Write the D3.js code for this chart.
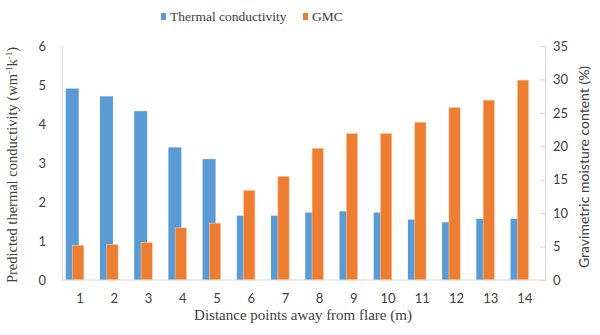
<!DOCTYPE html>
<html>
<head>
<meta charset="utf-8">
<script src="https://cdn.jsdelivr.net/npm/d3@7"></script>
<style>
  body { margin:0; background:#fff; }
</style>
</head>
<body>
<div class="canvas"></div>
<script>
// data
const points = ['1','2','3','4','5','6','7','8','9','10','11','12','13','14'];
const thermal = [4.91, 4.71, 4.33, 3.40, 3.10, 1.65, 1.65, 1.73, 1.76, 1.73, 1.55, 1.48, 1.57, 1.57];
const gmc = [5.2, 5.3, 5.6, 7.8, 8.5, 13.4, 15.5, 19.7, 21.9, 21.9, 23.6, 25.8, 26.9, 29.9];
const leftTicks = [0, 1, 2, 3, 4, 5, 6];
const rightTicks = [0, 5, 10, 15, 20, 25, 30, 35];

const width = 600, height = 335;
const plot = { left:62, right:545, top:46, bottom:280 }; // plot area edges
const serif = '"Liberation Serif", "Times New Roman", serif';
const sans = 'Lato, "Open Sans", sans-serif';

const svg = d3.select('.canvas')
  .append('svg')
  .attr('width', width)
  .attr('height', height);

// scales
const x = d3.scaleBand().domain(points).range([plot.left + 1, plot.right - 3]);
const yL = d3.scaleLinear().domain([0, 6]).range([plot.bottom, plot.top]);
const yR = d3.scaleLinear().domain([0, 35]).range([plot.bottom, plot.top]);
const bw = x.bandwidth();

// bars: blue first, orange drawn over it (slight overlap like the original)
svg.append('g').selectAll('rect')
  .data(thermal)
  .enter().append('rect')
    .attr('x', (d, i) => x(points[i]) + bw * 0.08)
    .attr('width', bw * 0.38)
    .attr('y', d => yL(d))
    .attr('height', d => yL(0) - yL(d))
    .attr('fill', '#5b9bd5');

svg.append('g').selectAll('rect')
  .data(gmc)
  .enter().append('rect')
    .attr('x', (d, i) => x(points[i]) + bw * 0.28)
    .attr('width', bw * 0.33)
    .attr('y', d => yR(d))
    .attr('height', d => yR(0) - yR(d))
    .attr('fill', '#ed7d31')
    .attr('stroke', '#f8c9a6')
    .attr('stroke-width', 0.6);

// axes
const leftAxis = d3.axisLeft(yL).tickValues(leftTicks).tickFormat(d3.format('d')).tickSize(0).tickPadding(16);
const rightAxis = d3.axisRight(yR).tickValues(rightTicks).tickSize(-5).tickPadding(8);
const bottomAxis = d3.axisBottom(x).tickSize(0).tickPadding(14);

const gl = svg.append('g').attr('transform', `translate(${plot.left},0)`).call(leftAxis);
const gr = svg.append('g').attr('transform', `translate(${plot.right},0)`).call(rightAxis);
const gb = svg.append('g').attr('transform', `translate(0,${plot.bottom})`).call(bottomAxis);

[gl, gr, gb].forEach(g => {
  g.attr('font-family', null).attr('font-size', null)
   .style('font-family', sans).style('font-size', '13px');
  g.selectAll('.domain').attr('stroke', '#d9d9d9').attr('stroke-width', 1);
  g.selectAll('.tick line').attr('stroke', '#d9d9d9');
  g.selectAll('text').attr('fill', '#404040');
});
gb.select('.domain').attr('d', `M${plot.left},0H${plot.right}`);

// axis titles
svg.append('text')
  .attr('transform', `translate(17,${(plot.top + plot.bottom) / 2 + 2}) rotate(-90)`)
  .attr('text-anchor', 'middle')
  .style('font-family', serif)
  .style('font-size', '14.5px')
  .attr('fill', '#404040')
  .html('Predicted thermal conductivity (wm<tspan dy="-5" font-size="9">-1</tspan><tspan dy="5">k</tspan><tspan dy="-5" font-size="9">-1</tspan><tspan dy="5">)</tspan>');

svg.append('text')
  .attr('transform', `translate(589,${(plot.top + plot.bottom) / 2 + 4}) rotate(-90)`)
  .attr('text-anchor', 'middle')
  .style('font-family', sans)
  .style('font-size', '14px')
  .attr('fill', '#404040')
  .text('Gravimetric moisture content (%)');

svg.append('text')
  .attr('x', 303)
  .attr('y', 320)
  .attr('text-anchor', 'middle')
  .style('font-family', serif)
  .style('font-size', '15px')
  .attr('fill', '#404040')
  .text('Distance points away from flare (m)');

// legend
const legend = [
  { name:'Thermal conductivity', color:'#5b9bd5', x:161 },
  { name:'GMC', color:'#ed7d31', x:303 }
];
const lg = svg.append('g').selectAll('g')
  .data(legend)
  .enter().append('g')
    .attr('transform', d => `translate(${d.x},13)`);
lg.append('rect').attr('width', 5).attr('height', 7).attr('fill', d => d.color);
lg.append('text')
  .attr('x', 9)
  .attr('y', 8)
  .style('font-family', serif)
  .style('font-size', '13.5px')
  .attr('fill', '#404040')
  .text(d => d.name);
</script>
</body>
</html>
